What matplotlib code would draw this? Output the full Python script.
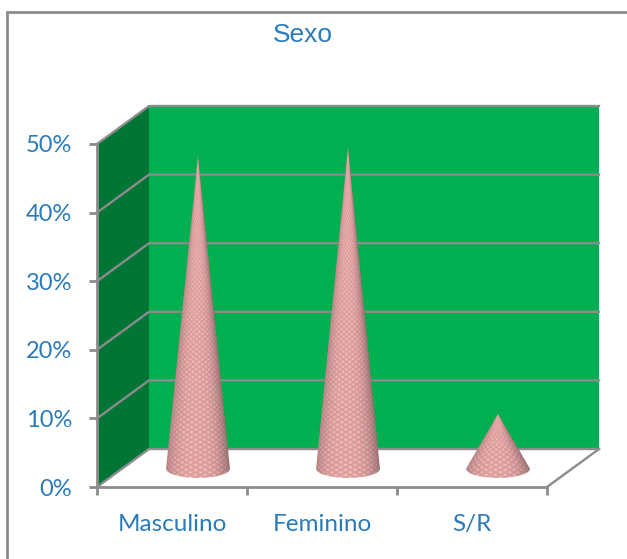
import numpy as np
import matplotlib
matplotlib.use("Agg")
import matplotlib.pyplot as plt
from matplotlib.patches import Polygon, PathPatch, Rectangle
from matplotlib.path import Path

categories = ["Masculino", "Feminino", "S/R"]
values = [45.7, 47, 8]
tick_labels = ["0%", "10%", "20%", "30%", "40%", "50%"]
grid_levels = [0, 10, 20, 30, 40, 50]

BLUE = "#2b7bbb"
GRAY = "#8c8c8c"
WALL = "#00b050"
SIDE = "#007535"

W, H = 627, 559
# front plane of the 3d box, in pixels
LEFT, RIGHT, TOP, BOTTOM = 97, 547, 144, 487
# how far the back wall is pushed, in data units
DX = 52 / 150
DY = 38 / 6.86
PX_PER_PCT = (BOTTOM - TOP) / 50


def back(x, y, depth=1.0):
    return x + DX * depth, y + DY * depth


def cone_shading(value, base_h, half_px=32, dot_px=5):
    """Pink rgb image wrapped round a cone: dots close up towards the tip."""
    height_px = value * PX_PER_PCT
    nx, ny = half_px * 8, int((value + base_h) * PX_PER_PCT * 4)
    u = np.linspace(-1, 1, nx)
    v = np.linspace(-base_h / value, 0.995, ny)
    uu, vv = np.meshgrid(u, v)
    local = np.clip(uu / (1 - np.maximum(vv, 0)), -1, 1)
    angle = np.arcsin(local)
    light = 1 - 0.26 * np.abs(local + 0.08) ** 3
    across = np.sin(angle * 2 * half_px / dot_px * 1.6)
    along = np.sin(vv * height_px / dot_px * 2 * np.pi)
    dots = np.clip(across * along, 0, 1)
    shade = light * (0.90 + 0.10 * dots)
    rgb = np.dstack([shade * 0.97, shade * (0.68 + 0.14 * dots), shade * (0.68 + 0.14 * dots)])
    return np.clip(rgb, 0, 1)


def draw_cone(ax, x, value, half_width=0.213, base_h=1.35):
    cx, cy = back(x, 0, 0.5)
    cy -= 0.1
    tip = (cx, cy + value)
    t = np.linspace(np.pi, 2 * np.pi, 40)
    rim = np.column_stack([cx + half_width * np.cos(t), cy + base_h * np.sin(t)])
    verts = np.vstack([tip, rim, tip])
    codes = [Path.MOVETO] + [Path.LINETO] * (len(verts) - 2) + [Path.CLOSEPOLY]
    clip = PathPatch(Path(verts, codes), transform=ax.transData, fc="none", ec="none")
    ax.add_patch(clip)
    im = ax.imshow(cone_shading(value, base_h),
                   extent=[cx - half_width, cx + half_width, cy - base_h, cy + value],
                   origin="lower", aspect="auto", zorder=5, interpolation="bilinear")
    im.set_clip_path(clip)


fig = plt.figure(figsize=(W / 100, H / 100), dpi=100, facecolor="white")

# outer chart frame, only its left and top edges fall inside the canvas
frame = Rectangle((7 / W, -0.02), 1.02, (H - 12) / H + 0.02,
                  transform=fig.transFigure, fc="none", ec=GRAY, lw=2)
fig.add_artist(frame)

ax = fig.add_axes([LEFT / W, 1 - BOTTOM / H, (RIGHT - LEFT) / W, (BOTTOM - TOP) / H])
ax.patch.set_visible(False)

# back wall, side wall
n = len(categories)
x0, y0 = back(0, 0)
x1, y1 = back(n, 50)
ax.add_patch(Polygon([(x0, y0), (x1, y0), (x1, y1), (x0, y1)], fc=WALL, ec="none",
                     clip_on=False, zorder=1))
ax.add_patch(Polygon([(0, 0), (x0, y0), (x0, y1), (0, 50)], fc=SIDE, ec="none",
                     clip_on=False, zorder=1))

# gridlines run along the side wall and the back wall
for level in grid_levels:
    xb, yb = back(0, level)
    xe, _ = back(n, level)
    ax.plot([0, xb, xe], [level, yb, yb], color=GRAY, lw=1.7, clip_on=False, zorder=2)

# floor edge on the right
xb, yb = back(n, 0)
ax.plot([n, xb], [0, yb], color=GRAY, lw=1.7, clip_on=False, zorder=2)

for i, value in enumerate(values):
    draw_cone(ax, i + 0.5, value)

ax.set_xlim(0, n)
ax.set_ylim(0, 50)

ax.set_yticks(grid_levels)
ax.set_yticklabels(tick_labels, fontsize=17, color=BLUE, family="Lato")
ax.set_xticks(range(n + 1))
ax.set_xticklabels([])
ax.set_xticks([i + 0.5 for i in range(n)], minor=True)
ax.set_xticklabels(categories, minor=True, fontsize=17.5, color=BLUE, family="Lato")
ax.tick_params(axis="x", which="minor", length=0, pad=19.5)
ax.tick_params(axis="x", which="major", length=6, width=2, color=GRAY)
ax.tick_params(axis="y", length=6, width=2, color=GRAY, pad=12)

for side in ["top", "right"]:
    ax.spines[side].set_visible(False)
for side in ["left", "bottom"]:
    ax.spines[side].set_color(GRAY)
    ax.spines[side].set_linewidth(2)
    ax.spines[side].set_zorder(3)

fig.text(303 / W, 1 - 35 / H, "Sexo", ha="center", va="center", fontsize=19,
         color=BLUE, family="Liberation Sans")

fig.savefig("out.png", dpi=100)
